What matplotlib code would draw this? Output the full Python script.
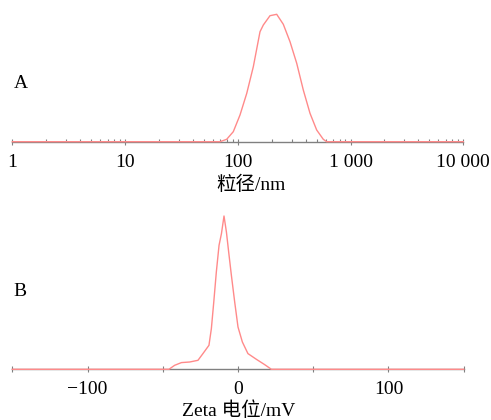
import matplotlib
matplotlib.use("Agg")
import matplotlib.pyplot as plt
from matplotlib.ticker import FixedLocator, FixedFormatter, LogLocator, NullFormatter

# Panel A: particle size distribution (size in nm, relative intensity %)
size_nm = [1, 69.5, 79.7, 91.2, 104.6, 120, 137.3, 157.4, 168.4, 193, 221.3,
           253.3, 290.4, 333.1, 381, 436.9, 500.7, 573, 614, 10000]
size_int = [0, 0, 0.24, 1.0, 2.67, 4.83, 7.5, 11.0, 11.67, 12.6, 12.74,
            11.74, 10.0, 7.84, 5.17, 2.84, 1.17, 0.24, 0, 0]

# Panel B: zeta potential distribution (mV, relative counts)
zeta_mv = [-150, -45.9, -42.1, -37.6, -32.1, -26.6, -23.3, -19.3, -17.7, -16.1,
           -14.4, -12.6, -11.0, -9.3, -7.7, -6.2, -4.4, -2.2, 0, 2.9, 6.6,
           12.2, 17.7, 22.2, 150]
zeta_cnt = [0, 0, 4, 6.7, 7.3, 9, 15.7, 24, 40.7, 67.3,
            97.3, 124, 135.7, 153.3, 137.3, 117.3, 94, 67.3, 42.3, 27.3, 15.7,
            10, 4.7, 0, 0]

a_ticks = [1, 10, 100, 1000, 10000]
a_labels = ["1", "10", "100", "1 000", "10 000"]
b_ticks = [-150, -100, -50, 0, 50, 100, 150]
b_labels = ["", "\u2212100", "", "0", "", "100", ""]

W, H = 491, 420
fig = plt.figure(figsize=(W / 100, H / 100), dpi=100)

serif = ["Liberation Serif", "Noto Sans CJK SC"]
line_c = "#ff8a8a"
axis_c = "#808080"
fs = 14

def px_axes(x0, x1, ybase, ytop):
    return fig.add_axes([x0 / W, (H - ybase) / H, (x1 - x0) / W, (ybase - ytop) / H])

def style(ax):
    for s in ["top", "left", "right"]:
        ax.spines[s].set_visible(False)
    ax.spines["bottom"].set_color(axis_c)
    ax.spines["bottom"].set_linewidth(1.0)
    ax.spines["bottom"].set_zorder(1)
    ax.set_yticks([])
    ax.patch.set_alpha(0)
    ax.tick_params(axis="x", which="major", direction="inout", length=5, width=0.8,
                   color=axis_c, pad=6, labelsize=fs)
    ax.tick_params(axis="x", which="minor", direction="in", length=2.5, width=0.8,
                   color=axis_c)
    for lab in ax.get_xticklabels():
        lab.set_fontfamily(serif)

# Panel A
axA = px_axes(12.3, 463.3, 141.7, 8)
axA.plot(size_nm, size_int, color=line_c, lw=1.0, clip_on=False, zorder=3)
axA.set_xscale("log")
axA.set_xlim(1, 10000)
axA.set_ylim(0, 13.37)
axA.xaxis.set_major_locator(FixedLocator(a_ticks))
axA.xaxis.set_major_formatter(FixedFormatter(a_labels))
axA.xaxis.set_minor_locator(LogLocator(base=10, subs=range(2, 10), numticks=20))
axA.xaxis.set_minor_formatter(NullFormatter())
style(axA)
fig.text(251 / W, 1 - 185 / H, "粒径/nm", family=serif, fontsize=fs,
         ha="center", va="center")
fig.text(14 / W, 1 - 84 / H, "A", family=serif, fontsize=fs, ha="left", va="center")

# Panel B
axB = px_axes(12.3, 463.7, 369.3, 211)
axB.plot(zeta_mv, zeta_cnt, color=line_c, lw=1.0, clip_on=False, zorder=3)
axB.set_xlim(-150, 150)
axB.set_ylim(0, 158.3)
axB.xaxis.set_major_locator(FixedLocator(b_ticks))
axB.xaxis.set_major_formatter(FixedFormatter(b_labels))
style(axB)
fig.text(238.5 / W, 1 - 411 / H, "Zeta 电位/mV", family=serif, fontsize=fs,
         ha="center", va="center")
fig.text(13 / W, 1 - 292 / H, "B", family=serif, fontsize=fs, ha="left", va="center")

fig.savefig("out.png", dpi=100)
